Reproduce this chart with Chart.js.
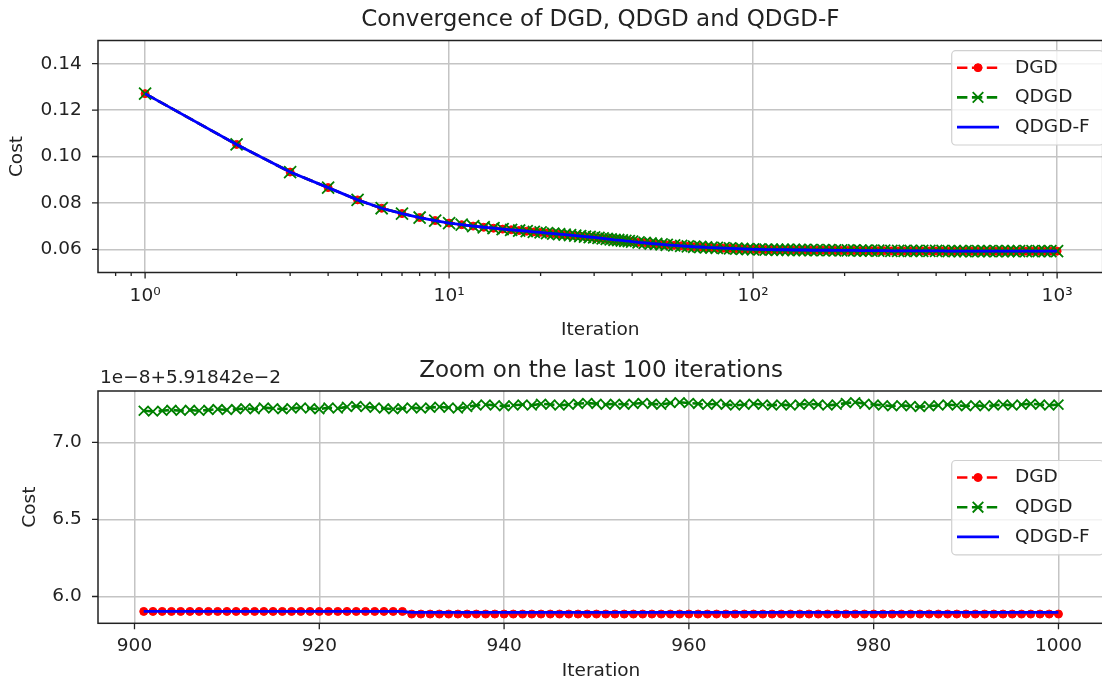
<!DOCTYPE html>
<html>
<head>
<meta charset="utf-8">
<title>Convergence of DGD, QDGD and QDGD-F</title>
<script src="https://cdn.jsdelivr.net/npm/chart.js@4.4.1/dist/chart.umd.min.js"></script>
<style>
  html, body { margin: 0; padding: 0; background: #fff; overflow: hidden; }
  #stage { position: relative; width: 1102px; height: 684px; overflow: hidden; }
  .plot { position: absolute; left: 0; width: 1113px; }
</style>
</head>
<body>
<div id="stage">
  <div class="plot" style="top:0; height:342px"><canvas id="convergenceChart" width="1113" height="342"></canvas></div>
  <div class="plot" style="top:342px; height:350px"><canvas id="zoomChart" width="1113" height="350"></canvas></div>
</div>
<script>
// ---- data: top plot (the three curves coincide at this scale) ----
const topIterations = [
    1, 2, 3, 4, 5, 6, 7, 8, 9, 10,
    11, 12, 13, 14, 15, 16, 17, 18, 19, 20,
    21, 22, 23, 24, 25, 26, 27, 28, 29, 30,
    31, 32, 33, 34, 35, 36, 37, 38, 39, 40,
    42, 44, 46, 48, 50,
    52, 55, 58, 61, 64, 67, 70, 73, 76, 80,
    84, 88, 92, 96, 100, 105, 110, 115, 120, 125,
    130, 136, 142, 148, 155, 162, 170, 178, 186, 195,
    205, 215, 225, 235, 245, 258, 270, 285, 300, 315,
    330, 345, 360, 380, 400, 420, 440, 460, 480, 500,
    525, 550, 575, 600, 630, 660, 690, 720, 750, 790,
    830, 870, 910, 950, 1000
];
const topCost = [
    0.1271, 0.1052, 0.0933, 0.0866, 0.0813, 0.0777, 0.0754, 0.0737, 0.0724, 0.0713,
    0.0706, 0.0700, 0.0695, 0.0691, 0.0687, 0.0684, 0.0681, 0.0678, 0.0675, 0.0673,
    0.0670, 0.0668, 0.0665, 0.0663, 0.0661, 0.0659, 0.0657, 0.0655, 0.0653, 0.0651,
    0.0649, 0.0647, 0.0645, 0.0643, 0.0641, 0.0640, 0.0638, 0.0636, 0.0635, 0.0633,
    0.0630, 0.0628, 0.0625, 0.0623, 0.0621,
    0.0619, 0.0617, 0.0615, 0.0613, 0.0611, 0.0610, 0.0608, 0.0607, 0.0606, 0.0605,
    0.0604, 0.0603, 0.0602, 0.0601, 0.0600, 0.0600, 0.0599, 0.0599, 0.0598, 0.0598,
    0.0598, 0.0597, 0.0597, 0.0597, 0.0596, 0.0596, 0.0596, 0.0596, 0.0595, 0.0595,
    0.0595, 0.0595, 0.0594, 0.0594, 0.0594, 0.0594, 0.0594, 0.0593, 0.0593, 0.0593,
    0.0593, 0.0593, 0.0593, 0.0593, 0.0593, 0.0593, 0.0592, 0.0592, 0.0592, 0.0592,
    0.0592, 0.0592, 0.0592, 0.0592, 0.0592, 0.0592, 0.0592, 0.0592, 0.0592, 0.0592,
    0.0592, 0.0592, 0.0592, 0.0592, 0.0592
];
const topXTicks = [1, 10, 100, 1000];
const topXTickLabels = ['10\u2070', '10\u00b9', '10\u00b2', '10\u00b3'];
const topYTicks = [0.06, 0.08, 0.10, 0.12, 0.14];

// ---- data: zoom on iterations 901..1000, in units of 1e-8 above 5.91842e-2 ----
const zoomFirstIteration = 901;
const zoomDGD = [
    5.903, 5.903, 5.903, 5.903, 5.903, 5.903, 5.903, 5.903, 5.903, 5.903,
    5.903, 5.903, 5.903, 5.903, 5.903, 5.903, 5.903, 5.903, 5.903, 5.903,
    5.903, 5.903, 5.903, 5.903, 5.903, 5.903, 5.903, 5.903, 5.903, 5.886,
    5.886, 5.886, 5.886, 5.886, 5.886, 5.886, 5.886, 5.886, 5.886, 5.886,
    5.886, 5.886, 5.886, 5.886, 5.886, 5.886, 5.886, 5.886, 5.886, 5.886,
    5.886, 5.886, 5.886, 5.886, 5.886, 5.886, 5.886, 5.886, 5.886, 5.886,
    5.886, 5.886, 5.886, 5.886, 5.886, 5.886, 5.886, 5.886, 5.886, 5.886,
    5.886, 5.886, 5.886, 5.886, 5.886, 5.886, 5.886, 5.886, 5.886, 5.886,
    5.886, 5.886, 5.886, 5.886, 5.886, 5.886, 5.886, 5.886, 5.886, 5.886,
    5.886, 5.886, 5.886, 5.886, 5.886, 5.886, 5.886, 5.886, 5.886, 5.886
];
const zoomQDGD = [
    7.205, 7.200, 7.205, 7.210, 7.205, 7.210, 7.205, 7.210, 7.215, 7.210,
    7.215, 7.220, 7.215, 7.225, 7.220, 7.215, 7.220, 7.225, 7.220, 7.215,
    7.225, 7.220, 7.230, 7.235, 7.230, 7.225, 7.220, 7.215, 7.220, 7.225,
    7.220, 7.225, 7.230, 7.225, 7.220, 7.230, 7.240, 7.245, 7.240, 7.235,
    7.240, 7.245, 7.240, 7.250, 7.245, 7.240, 7.245, 7.250, 7.255, 7.250,
    7.245, 7.250, 7.245, 7.250, 7.255, 7.250, 7.245, 7.255, 7.260, 7.255,
    7.250, 7.245, 7.250, 7.245, 7.240, 7.245, 7.250, 7.245, 7.240, 7.245,
    7.240, 7.245, 7.250, 7.245, 7.240, 7.245, 7.255, 7.260, 7.250, 7.245,
    7.240, 7.235, 7.240, 7.235, 7.230, 7.235, 7.240, 7.245, 7.240, 7.235,
    7.240, 7.235, 7.240, 7.245, 7.240, 7.245, 7.250, 7.245, 7.240, 7.245
];
const zoomQDGDF = [
    5.903, 5.903, 5.903, 5.903, 5.903, 5.903, 5.903, 5.903, 5.903, 5.903,
    5.903, 5.903, 5.903, 5.903, 5.903, 5.903, 5.903, 5.903, 5.903, 5.903,
    5.903, 5.903, 5.903, 5.903, 5.903, 5.903, 5.903, 5.903, 5.903, 5.897,
    5.897, 5.897, 5.897, 5.897, 5.897, 5.897, 5.897, 5.897, 5.897, 5.897,
    5.897, 5.897, 5.897, 5.897, 5.897, 5.897, 5.897, 5.897, 5.897, 5.897,
    5.897, 5.897, 5.897, 5.897, 5.897, 5.897, 5.897, 5.897, 5.897, 5.897,
    5.897, 5.897, 5.897, 5.897, 5.897, 5.897, 5.897, 5.897, 5.897, 5.897,
    5.897, 5.897, 5.897, 5.897, 5.897, 5.897, 5.897, 5.897, 5.897, 5.897,
    5.897, 5.897, 5.897, 5.897, 5.897, 5.897, 5.897, 5.897, 5.897, 5.897,
    5.897, 5.897, 5.897, 5.897, 5.897, 5.897, 5.897, 5.897, 5.897, 5.897
];
const zoomXTicks = [900, 920, 940, 960, 980, 1000];
const zoomYTicks = [6.0, 6.5, 7.0];
const zoomOffsetText = '1e\u22128+5.91842e\u22122';

// ---- look ----
const TEXT_COLOR = '#222';
const GRID_COLOR = '#c4c4c4';
const SPINE_COLOR = '#222';
const DASH = [10.4, 4.5];

Chart.defaults.font.family = 'DejaVu Sans';
Chart.defaults.font.size = 18.5;
Chart.defaults.color = TEXT_COLOR;

// Draws a cross or a dot the same way the datasets do (used by the legend)
function drawMarker(ctx, style, x, y, radius, color, lineWidth) {
    ctx.save();
    ctx.setLineDash([]);
    ctx.strokeStyle = color;
    ctx.fillStyle = color;
    ctx.lineWidth = lineWidth;
    ctx.beginPath();
    if (style === 'circle') {
        ctx.arc(x, y, radius, 0, Math.PI * 2);
        ctx.fill();
        ctx.stroke();
    } else if (style === 'crossRot') {
        const d = radius * Math.SQRT1_2;
        ctx.moveTo(x - d, y - d);
        ctx.lineTo(x + d, y + d);
        ctx.moveTo(x + d, y - d);
        ctx.lineTo(x - d, y + d);
        ctx.stroke();
    }
    ctx.restore();
}

// Frame round the plot area plus outside tick marks (major and minor)
const axesFramePlugin = {
    id: 'axesFrame',
    afterDraw(chart, args, opts) {
        const { ctx, chartArea } = chart;
        const xs = chart.scales.x;
        const ys = chart.scales.y;
        ctx.save();
        ctx.strokeStyle = SPINE_COLOR;
        ctx.lineWidth = 1.3;
        ctx.beginPath();
        (opts.xMajor || []).forEach(v => {
            const px = xs.getPixelForValue(v);
            ctx.moveTo(px, chartArea.bottom);
            ctx.lineTo(px, chartArea.bottom + 6);
        });
        (opts.xMinor || []).forEach(v => {
            const px = xs.getPixelForValue(v);
            ctx.moveTo(px, chartArea.bottom);
            ctx.lineTo(px, chartArea.bottom + 3.5);
        });
        (opts.yMajor || []).forEach(v => {
            const py = ys.getPixelForValue(v);
            ctx.moveTo(chartArea.left, py);
            ctx.lineTo(chartArea.left - 6, py);
        });
        ctx.stroke();
        ctx.lineWidth = 1.5;
        ctx.strokeRect(chartArea.left, chartArea.top, chartArea.right - chartArea.left, chartArea.bottom - chartArea.top);
        if (opts.offsetText) {
            ctx.fillStyle = TEXT_COLOR;
            ctx.font = '18.5px "DejaVu Sans"';
            ctx.textAlign = 'left';
            ctx.textBaseline = 'middle';
            ctx.fillText(opts.offsetText, chartArea.left + 2, chartArea.top - 12.5);
        }
        ctx.restore();
    }
};

// Matplotlib-like legend box inside the axes, with line + marker samples
const boxLegendPlugin = {
    id: 'boxLegend',
    afterDraw(chart, args, opts) {
        const ctx = chart.ctx;
        const { x, y, width, height } = opts;
        const r = 4;
        ctx.save();
        ctx.beginPath();
        ctx.moveTo(x + r, y);
        ctx.lineTo(x + width - r, y);
        ctx.arcTo(x + width, y, x + width, y + r, r);
        ctx.lineTo(x + width, y + height - r);
        ctx.arcTo(x + width, y + height, x + width - r, y + height, r);
        ctx.lineTo(x + r, y + height);
        ctx.arcTo(x, y + height, x, y + height - r, r);
        ctx.lineTo(x, y + r);
        ctx.arcTo(x, y, x + r, y, r);
        ctx.closePath();
        ctx.fillStyle = 'rgba(255,255,255,0.8)';
        ctx.fill();
        ctx.strokeStyle = '#d0d0d0';
        ctx.lineWidth = 1.2;
        ctx.stroke();

        chart.data.datasets.forEach((ds, i) => {
            const ry = y + opts.rowStart + i * opts.rowGap;
            const x0 = x + opts.lineStart;
            const x1 = x + opts.lineEnd;
            ctx.strokeStyle = ds.borderColor;
            ctx.lineWidth = ds.borderWidth;
            ctx.setLineDash(ds.borderDash || []);
            ctx.beginPath();
            ctx.moveTo(x0, ry);
            ctx.lineTo(x1, ry);
            ctx.stroke();
            ctx.setLineDash([]);
            if (ds.pointRadius > 0) {
                drawMarker(ctx, ds.pointStyle, (x0 + x1) / 2, ry, opts.markerRadius[i], ds.pointBorderColor, ds.pointBorderWidth);
            }
            ctx.fillStyle = TEXT_COLOR;
            ctx.font = '18.5px "DejaVu Sans"';
            ctx.textAlign = 'left';
            ctx.textBaseline = 'middle';
            ctx.fillText(ds.label, x + opts.textX, ry);
        });
        ctx.restore();
    }
};

function styleDGD(points) {
    return {
        label: 'DGD', data: points, order: 3,
        borderColor: '#ff0000', borderWidth: 2.6, borderDash: DASH,
        pointStyle: 'circle', pointRadius: 4, pointBorderWidth: 1,
        pointBackgroundColor: '#ff0000', pointBorderColor: '#ff0000'
    };
}
function styleQDGD(points, radius) {
    return {
        label: 'QDGD', data: points, order: 2,
        borderColor: '#008000', borderWidth: 2.6, borderDash: DASH,
        pointStyle: 'crossRot', pointRadius: radius, pointBorderWidth: 1.8,
        pointBackgroundColor: '#008000', pointBorderColor: '#008000'
    };
}
function styleQDGDF(points) {
    return {
        label: 'QDGD-F', data: points, order: 1,
        borderColor: '#0000ff', borderWidth: 2.8, pointRadius: 0
    };
}

function baseOptions() {
    return {
        responsive: false,
        maintainAspectRatio: false,
        animation: false,
        devicePixelRatio: 1,
        events: [],
        layout: { padding: 0 },
        elements: { line: { tension: 0, fill: false } }
    };
}

// ---- top chart: convergence on a log x axis ----
const topPoints = topIterations.map((it, i) => ({ x: it, y: topCost[i] }));
const topMinorTicks = [];
[0.1, 1, 10, 100].forEach(decade => {
    for (let m = 2; m <= 9; m++) {
        const v = m * decade;
        if (v > 0.708 && v < 1412.5) topMinorTicks.push(v);
    }
});

new Chart(document.getElementById('convergenceChart'), {
    type: 'line',
    data: { datasets: [styleDGD(topPoints), styleQDGD(topPoints, 8.5), styleQDGDF(topPoints)] },
    options: Object.assign(baseOptions(), {
        scales: {
            x: {
                type: 'logarithmic',
                min: 0.708,
                max: 1412.5,
                afterBuildTicks: axis => { axis.ticks = topXTicks.map(v => ({ value: v, major: true })); },
                afterFit: axis => { axis.height = 69.5; },
                grid: { color: GRID_COLOR, lineWidth: 1.5, drawTicks: false },
                border: { display: false },
                ticks: {
                    padding: 12.5, autoSkip: false, maxRotation: 0,
                    callback: v => topXTickLabels[topXTicks.indexOf(v)]
                },
                title: { display: true, text: 'Iteration', padding: { top: 0, bottom: 0.9 } }
            },
            y: {
                min: 0.05,
                max: 0.15,
                afterBuildTicks: axis => { axis.ticks = topYTicks.map(v => ({ value: v })); },
                afterFit: axis => { axis.width = 98; },
                grid: { color: GRID_COLOR, lineWidth: 1.5, drawTicks: false },
                border: { display: false },
                ticks: { padding: 16.3, callback: v => v.toFixed(2) },
                title: { display: true, text: 'Cost', padding: { top: 6, bottom: 0 } }
            }
        },
        plugins: {
            legend: { display: false },
            tooltip: { enabled: false },
            title: {
                display: true, text: 'Convergence of DGD, QDGD and QDGD-F', fullSize: false,
                color: TEXT_COLOR, font: { size: 23, weight: 'normal' },
                padding: { top: 6.7, bottom: 6.2 }
            },
            axesFrame: { xMajor: topXTicks, xMinor: topMinorTicks, yMajor: topYTicks },
            boxLegend: {
                x: 951.7, y: 50.7, width: 152, height: 94.3, markerRadius: [4, 7.5, 0],
                rowStart: 17, rowGap: 29.7, lineStart: 5.3, lineEnd: 47.3, textX: 63.3
            }
        }
    }),
    plugins: [axesFramePlugin, boxLegendPlugin]
});

// ---- bottom chart: zoom on the last 100 iterations ----
const zoomPoints = values => values.map((v, i) => ({ x: zoomFirstIteration + i, y: v }));

new Chart(document.getElementById('zoomChart'), {
    type: 'line',
    data: { datasets: [styleDGD(zoomPoints(zoomDGD)), styleQDGD(zoomPoints(zoomQDGD), 7), styleQDGDF(zoomPoints(zoomQDGDF))] },
    options: Object.assign(baseOptions(), {
        scales: {
            x: {
                type: 'linear',
                min: 896.05,
                max: 1004.95,
                afterBuildTicks: axis => { axis.ticks = zoomXTicks.map(v => ({ value: v })); },
                afterFit: axis => { axis.height = 68.7; },
                grid: { color: GRID_COLOR, lineWidth: 1.5, drawTicks: false },
                border: { display: false },
                ticks: { padding: 12, autoSkip: false, maxRotation: 0, callback: v => String(v) },
                title: { display: true, text: 'Iteration', padding: { top: 0, bottom: 9.5 } }
            },
            y: {
                min: 5.826,
                max: 7.333,
                afterBuildTicks: axis => { axis.ticks = zoomYTicks.map(v => ({ value: v })); },
                afterFit: axis => { axis.width = 98; },
                grid: { color: GRID_COLOR, lineWidth: 1.5, drawTicks: false },
                border: { display: false },
                ticks: { padding: 16.3, callback: v => v.toFixed(1) },
                title: { display: true, text: 'Cost', padding: { top: 19, bottom: 0 } }
            }
        },
        plugins: {
            legend: { display: false },
            tooltip: { enabled: false },
            title: {
                display: true, text: 'Zoom on the last 100 iterations', fullSize: false,
                color: TEXT_COLOR, font: { size: 23, weight: 'normal' },
                padding: { top: 15.7, bottom: 5.7 }
            },
            axesFrame: { xMajor: zoomXTicks, yMajor: zoomYTicks, offsetText: zoomOffsetText },
            boxLegend: {
                x: 951.7, y: 118.5, width: 152, height: 94.3, markerRadius: [4, 7.5, 0],
                rowStart: 17, rowGap: 29.7, lineStart: 5.3, lineEnd: 47.3, textX: 63.3
            }
        }
    }),
    plugins: [axesFramePlugin, boxLegendPlugin]
});
</script>
</body>
</html>
